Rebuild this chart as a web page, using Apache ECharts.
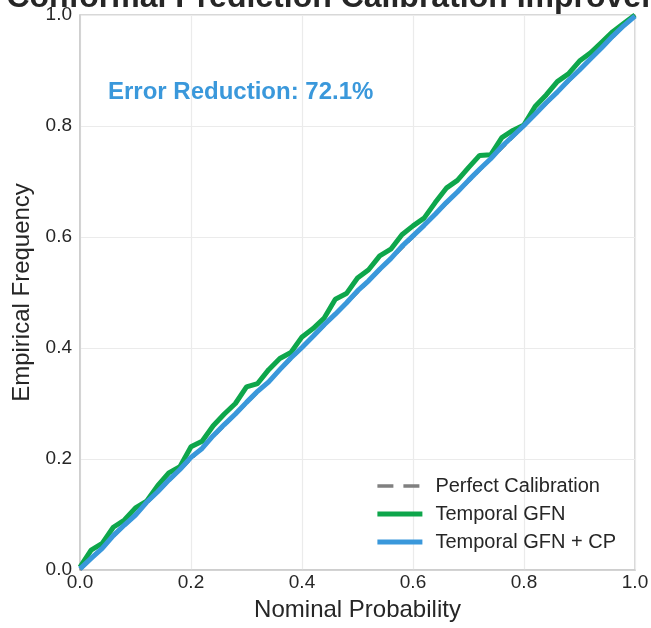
<!DOCTYPE html>
<html>
<head>
<meta charset="utf-8">
<script src="https://cdn.jsdelivr.net/npm/echarts@6/dist/echarts.min.js"></script>
<style>
  html, body { margin: 0; padding: 0; background: #fff; }
  #myEcharts { width: 651px; height: 628px; }
</style>
</head>
<body>
<div id="myEcharts"></div>
<script>
// nominal probability grid
const nominal = [0.00,0.02,0.04,0.06,0.08,0.10,0.12,0.14,0.16,0.18,0.20,0.22,0.24,0.26,0.28,0.30,0.32,0.34,0.36,0.38,0.40,0.42,0.44,0.46,0.48,0.50,0.52,0.54,0.56,0.58,0.60,0.62,0.64,0.66,0.68,0.70,0.72,0.74,0.76,0.78,0.80,0.82,0.84,0.86,0.88,0.90,0.92,0.94,0.96,0.98,1.00];
// empirical frequency, Temporal GFN (no CP)
const gfnFreq = [0.005,0.036,0.048,0.077,0.090,0.112,0.124,0.152,0.175,0.186,0.222,0.232,0.260,0.281,0.300,0.330,0.336,0.361,0.381,0.392,0.420,0.435,0.454,0.488,0.498,0.526,0.541,0.566,0.578,0.604,0.620,0.634,0.662,0.688,0.702,0.725,0.747,0.748,0.779,0.792,0.802,0.835,0.856,0.880,0.894,0.917,0.932,0.951,0.970,0.985,1.000];
// empirical frequency, Temporal GFN + CP
const cpFreq = [0.002,0.021,0.039,0.062,0.081,0.099,0.122,0.141,0.162,0.181,0.203,0.219,0.242,0.262,0.281,0.302,0.322,0.339,0.361,0.382,0.401,0.421,0.442,0.461,0.481,0.503,0.521,0.542,0.561,0.583,0.602,0.621,0.641,0.662,0.681,0.702,0.722,0.741,0.763,0.782,0.801,0.821,0.842,0.861,0.882,0.901,0.921,0.941,0.962,0.981,0.998];
const perfectX = [0, 1];
const perfectY = [0, 1];
const errorReduction = 72.1;

const font = "'Liberation Sans', Arial, sans-serif";
const pairs = (xs, ys) => xs.map((x, i) => [x, ys[i]]);

let chart = echarts.init(document.getElementById("myEcharts"));
chart.setOption({
    animation: false,
    textStyle: { fontFamily: font },
    title: {
        text: "Conformal Prediction Calibration Improvement",
        left: 357,
        textAlign: "center",
        top: -23,
        textStyle: { fontSize: 32, fontWeight: "bold", color: "#262626", fontFamily: font }
    },
    graphic: [{
        type: "text",
        left: 108,
        top: 80,
        style: {
            text: "Error Reduction: " + errorReduction.toFixed(1) + "%",
            font: "bold 24px " + font,
            fill: "#3a98db"
        }
    }],
    grid: {
        left: 80, right: 16, top: 15, bottom: 58,
        outerBoundsMode: "none",
        show: true, borderColor: "#cccccc", borderWidth: 1.5
    },
    xAxis: {
        type: "value", min: 0, max: 1, interval: 0.2,
        name: "Nominal Probability", nameLocation: "middle", nameGap: 28,
        nameTextStyle: { fontSize: 24, color: "#262626" },
        axisLine: { show: true, lineStyle: { color: "#cccccc", width: 1.5 } },
        axisTick: { show: false },
        axisLabel: { fontSize: 19, color: "#262626", margin: 3, formatter: v => v.toFixed(1) },
        splitLine: { show: true, lineStyle: { color: "#ebebeb", width: 1.2 } }
    },
    yAxis: {
        type: "value", min: 0, max: 1, interval: 0.2,
        name: "Empirical Frequency", nameLocation: "middle", nameGap: 41,
        nameTextStyle: { fontSize: 24, color: "#262626" },
        axisLine: { show: true, lineStyle: { color: "#cccccc", width: 1.5 } },
        axisTick: { show: false },
        axisLabel: { fontSize: 19, color: "#262626", margin: 8, formatter: v => v.toFixed(1) },
        splitLine: { show: true, lineStyle: { color: "#ebebeb", width: 1.2 } }
    },
    legend: {
        right: 30, bottom: 71, orient: "vertical",
        itemWidth: 45, itemHeight: 12, itemGap: 8,
        itemStyle: { opacity: 0 },
        textStyle: { fontSize: 20, color: "#262626", padding: [0, 0, 0, 8] },
        data: [
            { name: "Perfect Calibration", lineStyle: { width: 3.5, type: [16, 10] } },
            { name: "Temporal GFN", lineStyle: { width: 5 } },
            { name: "Temporal GFN + CP", lineStyle: { width: 5 } }
        ]
    },
    series: [
        {
            name: "Perfect Calibration", type: "line", symbol: "none",
            data: pairs(perfectX, perfectY),
            lineStyle: { color: "#808080", width: 3, type: [10, 6] },
            itemStyle: { color: "#808080" }, z: 1
        },
        {
            name: "Temporal GFN", type: "line", symbol: "none",
            data: pairs(nominal, gfnFreq),
            lineStyle: { color: "#0ea64b", width: 5 },
            itemStyle: { color: "#0ea64b" }, z: 2
        },
        {
            name: "Temporal GFN + CP", type: "line", symbol: "none",
            data: pairs(nominal, cpFreq),
            lineStyle: { color: "#3a98db", width: 5 },
            itemStyle: { color: "#3a98db" }, z: 3
        }
    ]
});
window.addEventListener("resize", () => {
    chart.resize();
});
</script>
</body>
</html>
